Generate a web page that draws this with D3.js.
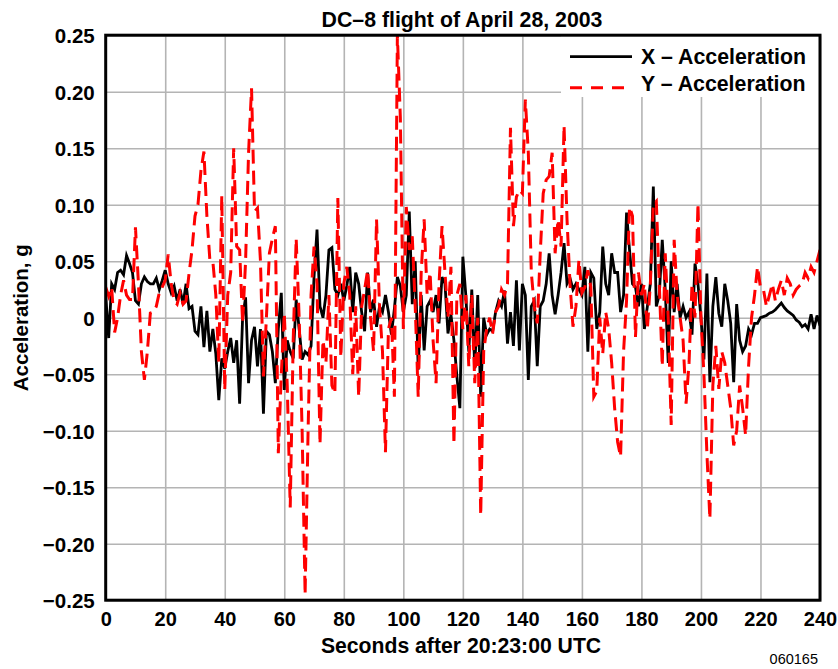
<!DOCTYPE html>
<html>
<head>
<meta charset="utf-8">
<script src="https://cdn.jsdelivr.net/npm/d3@7/dist/d3.min.js"></script>
<style>
  html, body { margin: 0; padding: 0; background: #fff; }
  svg { display: block; font-family: "Liberation Sans", Arial, Helvetica, sans-serif; }
</style>
</head>
<body>
<svg id="chart" width="838" height="669"></svg>
<script>
// ---- data ----
const title = "DC\u20138 flight of April 28, 2003";
const xAxisTitle = "Seconds after 20:23:00 UTC";
const yAxisTitle = "Acceleration, g";
const seriesNames = ["X \u2013 Acceleration", "Y \u2013 Acceleration"];
const footnote = "060165";

const xTickValues = [0, 20, 40, 60, 80, 100, 120, 140, 160, 180, 200, 220, 240];
const xTickLabels = ["0", "20", "40", "60", "80", "100", "120", "140", "160", "180", "200", "220", "240"];
const yTickValues = [0.25, 0.20, 0.15, 0.10, 0.05, 0, -0.05, -0.10, -0.15, -0.20, -0.25];
const yTickLabels = ["0.25", "0.20", "0.15", "0.10", "0.05", "0", "\u22120.05", "\u22120.10", "\u22120.15", "\u22120.20", "\u22120.25"];

// seconds after 20:23:00 UTC, one sample per second (0..240)
const seconds = d3.range(0, 241);

const xAccel = [
  0.020, -0.018, 0.030, 0.025, 0.040, 0.042, 0.038, 0.055, 0.048, 0.040,
  0.015, 0.012, 0.030, 0.036, 0.032, 0.030, 0.030, 0.035, 0.025, 0.033,
  0.042, 0.030, 0.022, 0.028, 0.015, 0.025, 0.012, 0.030, 0.008, 0.010,
  -0.012, -0.015, 0.010, -0.026, 0.006, -0.030, -0.010, -0.032, -0.073, -0.036,
  -0.045, -0.030, -0.018, -0.040, -0.020, -0.076, 0.000, 0.018, -0.058, -0.020,
  -0.008, -0.043, -0.010, -0.085, -0.012, -0.015, -0.030, -0.058, -0.010, 0.022,
  -0.064, -0.020, -0.030, -0.036, 0.016, -0.010, -0.037, -0.030, -0.033, -0.025,
  0.036, 0.078, 0.010, 0.000, 0.020, 0.060, 0.062, 0.025, 0.020, 0.030,
  0.015, 0.028, 0.045, 0.005, 0.040, 0.030, 0.005, -0.012, 0.040, 0.005,
  0.016, -0.008, 0.010, 0.005, 0.020, 0.005, -0.015, 0.008, 0.036, 0.028,
  0.005, 0.020, 0.094, 0.012, 0.050, -0.046, 0.020, -0.029, 0.010, 0.015,
  0.005, 0.020, -0.005, 0.036, 0.030, -0.014, 0.003, -0.020, -0.052, -0.080,
  0.054, 0.020, -0.030, 0.025, -0.045, 0.020, -0.070, 0.000, -0.015, -0.010,
  -0.012, 0.005, 0.015, 0.010, 0.024, -0.023, 0.005, -0.025, 0.033, -0.029,
  0.030, 0.020, -0.055, 0.010, 0.015, -0.043, 0.010, 0.015, 0.030, 0.057,
  0.020, 0.003, 0.020, 0.040, 0.066, 0.030, 0.035, 0.025, 0.030, 0.025,
  0.020, 0.045, -0.030, 0.040, 0.035, -0.010, 0.005, 0.063, 0.030, 0.020,
  0.057, 0.040, 0.040, 0.005, 0.020, 0.093, 0.060, 0.030, 0.027, 0.010,
  0.030, -0.010, 0.010, 0.030, 0.116, 0.010, 0.020, 0.069, 0.025, -0.040,
  0.050, 0.005, 0.030, 0.000, 0.010, 0.000, 0.005, -0.015, 0.048, 0.030,
  0.000, -0.037, 0.039, -0.057, 0.010, 0.036, 0.004, -0.008, 0.030, 0.015,
  -0.005, -0.057, 0.012, -0.020, -0.030, -0.025, -0.010, -0.015, -0.005, -0.005,
  0.000, 0.001, 0.002, 0.004, 0.005, 0.007, 0.010, 0.013, 0.009, 0.006,
  0.004, 0.002, -0.002, -0.004, -0.008, -0.006, -0.010, 0.003, -0.010, 0.002,
  -0.007
];

const yAccel = [
  0.027, 0.019, 0.027, -0.013, 0.000, 0.020, 0.033, 0.020, 0.016, 0.016,
  0.080, 0.030, -0.030, -0.055, -0.030, 0.004, 0.005, 0.010, 0.022, 0.027,
  0.033, 0.056, 0.030, 0.015, 0.012, 0.022, 0.012, 0.015, 0.039, 0.060,
  0.090, 0.100, 0.130, 0.147, 0.090, 0.051, 0.050, 0.020, -0.040, 0.108,
  -0.064, 0.020, 0.040, 0.150, 0.063, 0.060, -0.005, 0.050, 0.146, 0.203,
  0.094, 0.097, 0.050, -0.052, 0.000, 0.057, 0.070, 0.081, -0.120, -0.050,
  0.004, -0.060, -0.168, -0.020, 0.070, 0.000, -0.100, -0.245, -0.100, 0.020,
  0.063, 0.030, -0.112, -0.020, -0.040, 0.020, -0.060, -0.067, 0.106, -0.035,
  0.030, 0.045, 0.020, -0.050, 0.010, -0.070, 0.010, 0.025, 0.042, 0.000,
  -0.030, 0.087, 0.010, -0.030, -0.119, -0.010, 0.000, -0.070, 0.250, 0.177,
  -0.010, 0.098, 0.060, 0.072, 0.010, -0.070, 0.040, 0.087, 0.020, 0.040,
  -0.020, -0.058, 0.030, 0.081, 0.040, 0.000, 0.045, -0.112, 0.020, 0.030,
  -0.010, 0.020, -0.043, 0.020, -0.058, 0.000, -0.175, -0.030, -0.010, 0.000,
  -0.014, 0.005, 0.010, 0.025, 0.020, 0.030, 0.168, 0.081, 0.107, 0.113,
  0.110, 0.193, 0.146, 0.040, 0.010, -0.005, 0.057, 0.110, 0.122, 0.125,
  0.146, 0.057, 0.087, 0.063, 0.170, 0.087, 0.030, -0.008, 0.010, 0.051,
  0.022, 0.027, 0.042, 0.027, -0.070, -0.065, 0.000, -0.032, 0.005, -0.010,
  -0.040, -0.080, -0.110, -0.123, -0.030, 0.015, 0.098, 0.090, -0.017, 0.040,
  0.020, 0.030, -0.010, 0.030, 0.100, 0.103, 0.030, -0.043, 0.057, 0.000,
  -0.095, 0.069, 0.020, 0.000, -0.020, -0.076, -0.040, 0.030, 0.000, 0.101,
  0.000, -0.050, -0.120, -0.178, -0.060, -0.025, -0.063, -0.030, -0.040, -0.060,
  -0.080, -0.113, -0.100, -0.060, -0.080, -0.104, -0.043, 0.000, 0.020, 0.045,
  0.027, 0.025, 0.010, 0.020, 0.030, 0.015, 0.025, 0.033, 0.020, 0.035,
  0.030, 0.020, 0.025, 0.028, 0.030, 0.040, 0.035, 0.045, 0.040, 0.050,
  0.060
];

// ---- chart ----
const svg = d3.select("#chart");
const pLeft = 105.7, pRight = 820, pTop = 35.2, pBottom = 600.2;

const x = d3.scaleLinear().domain([0, 240]).range([pLeft, pRight]);
const y = d3.scaleLinear().domain([-0.25, 0.25]).range([pBottom, pTop]);

// grid
svg.append("g")
  .attr("transform", `translate(0,${pBottom})`)
  .call(d3.axisBottom(x).tickValues(xTickValues).tickSize(-(pBottom - pTop)).tickFormat(""))
  .call(g => g.select(".domain").remove())
  .call(g => g.selectAll("line").attr("stroke", "#b4b4b4").attr("stroke-width", 1.6));
svg.append("g")
  .attr("transform", `translate(${pLeft},0)`)
  .call(d3.axisLeft(y).tickValues(yTickValues).tickSize(-(pRight - pLeft)).tickFormat(""))
  .call(g => g.select(".domain").remove())
  .call(g => g.selectAll("line").attr("stroke", "#b4b4b4").attr("stroke-width", 1.6));

// legend background (hides grid)
svg.append("rect")
  .attr("x", 561).attr("y", pTop).attr("width", pRight - 561).attr("height", 97 - pTop)
  .attr("fill", "#fff");

// clip
svg.append("clipPath").attr("id", "plotclip")
  .append("rect").attr("x", pLeft).attr("y", pTop - 2).attr("width", pRight - pLeft).attr("height", pBottom - pTop + 4);

const line = d3.line().x((d, i) => x(seconds[i])).y(d => y(d));

const plot = svg.append("g").attr("clip-path", "url(#plotclip)");
plot.append("path").datum(xAccel)
  .attr("d", line).attr("fill", "none")
  .attr("stroke", "#000").attr("stroke-width", 2.8);
plot.append("path").datum(yAccel)
  .attr("d", line).attr("fill", "none")
  .attr("stroke", "#ff0000").attr("stroke-width", 3)
  .attr("stroke-dasharray", "14,7");

// frame
svg.append("rect")
  .attr("x", pLeft).attr("y", pTop).attr("width", pRight - pLeft).attr("height", pBottom - pTop)
  .attr("fill", "none").attr("stroke", "#000").attr("stroke-width", 3);

// tick labels
svg.append("g")
  .attr("transform", `translate(0,${pBottom})`)
  .call(d3.axisBottom(x).tickValues(xTickValues).tickSize(0).tickPadding(0)
    .tickFormat((d, i) => xTickLabels[i]))
  .call(g => g.select(".domain").remove())
  .call(g => g.selectAll("text")
    .attr("y", 26).attr("dy", null)
    .attr("font-family", "Liberation Sans, Arial, sans-serif")
    .attr("font-size", 20).attr("font-weight", "bold").attr("fill", "#000"));

svg.append("g")
  .attr("transform", `translate(${pLeft},0)`)
  .call(d3.axisLeft(y).tickValues(yTickValues).tickSize(0).tickPadding(11)
    .tickFormat((d, i) => yTickLabels[i]))
  .call(g => g.select(".domain").remove())
  .call(g => g.selectAll("text")
    .attr("dy", "0.36em")
    .attr("font-family", "Liberation Sans, Arial, sans-serif")
    .attr("font-size", 20.5).attr("font-weight", "bold").attr("fill", "#000"));

// titles
svg.append("text")
  .attr("x", 462).attr("y", 26.5).attr("text-anchor", "middle")
  .attr("font-size", 21.3).attr("font-weight", "bold").text(title);

svg.append("text")
  .attr("x", 461).attr("y", 652.5).attr("text-anchor", "middle")
  .attr("font-size", 21.2).attr("font-weight", "bold").text(xAxisTitle);

svg.append("text")
  .attr("transform", `translate(27.5,${(pTop + pBottom) / 2}) rotate(-90)`)
  .attr("text-anchor", "middle")
  .attr("font-size", 20.5).attr("font-weight", "bold").text(yAxisTitle);

svg.append("text")
  .attr("x", 818).attr("y", 664).attr("text-anchor", "end")
  .attr("font-size", 14.5).text(footnote);

// legend
const legendRows = [
  { name: seriesNames[0], ly: 56.7, ty: 64.3, color: "#000", dash: null, w: 2.8 },
  { name: seriesNames[1], ly: 87.7, ty: 90.7, color: "#ff0000", dash: "12,9", w: 3 }
];
legendRows.forEach(r => {
  svg.append("line")
    .attr("x1", 570).attr("x2", 632).attr("y1", r.ly).attr("y2", r.ly)
    .attr("stroke", r.color).attr("stroke-width", r.w)
    .attr("stroke-dasharray", r.dash);
  svg.append("text")
    .attr("x", 641).attr("y", r.ty)
    .attr("font-size", 21.3).attr("font-weight", "bold").text(r.name);
});
</script>
</body>
</html>
